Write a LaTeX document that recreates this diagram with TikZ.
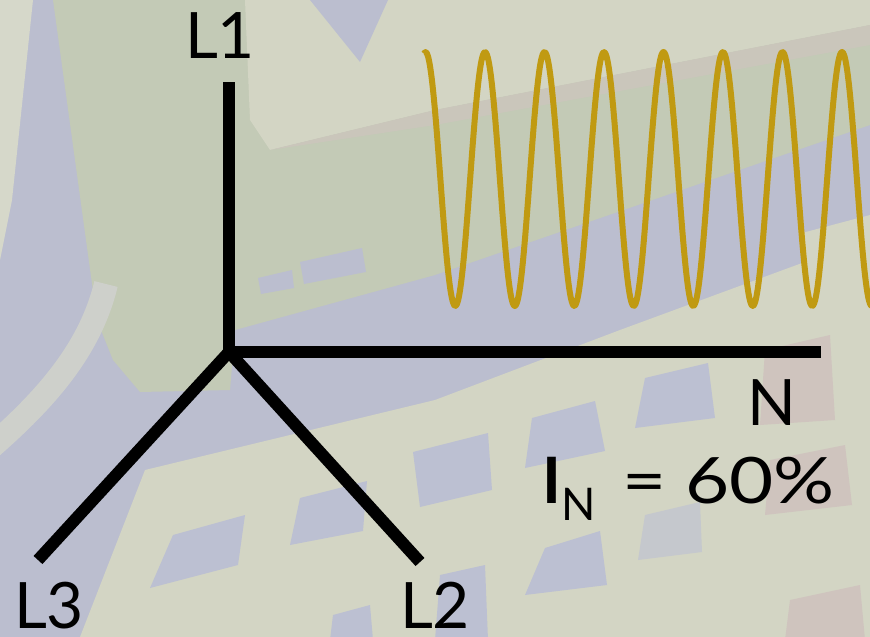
\documentclass[tikz,border=0pt]{standalone}
\usepackage{fontspec}
\usepackage{graphicx}
\setmainfont{Lato}
\definecolor{bgblue}{HTML}{BBBECF}
\definecolor{bggreen}{HTML}{C3CAB6}
\definecolor{bgbeige}{HTML}{D3D5C4}
\definecolor{bglight}{HTML}{D6D8CA}
\definecolor{bgpink}{HTML}{CFC4BE}
\definecolor{bgtile}{HTML}{BCC0D2}
\definecolor{wavegold}{HTML}{C09A12}
\tikzset{
  phase/.style={line width=12pt, black},
  lbl/.style={font=\fontsize{64}{64}\selectfont, inner sep=0pt, anchor=base, text=black, text height=46pt, text depth=0pt},
  wave/.style={wavegold, line width=6pt, line join=round}
}
\begin{document}
\begin{tikzpicture}[x=1pt,y=-1pt]
\useasboundingbox (0,0) rectangle (870,637);
% ---------- background ----------
\begin{scope}
\clip (0,0) rectangle (870,637);
\fill[bgblue] (0,0) rectangle (870,637);
\fill[bglight] (0,0) -- (33,0) -- (12,200) -- (0,260) -- cycle;
\fill[bggreen] (53,0) -- (870,0) -- (870,125) -- (435,275) -- (235,330) -- (230,390) -- (140,392) -- (113,360) -- (97,320) -- cycle;
\fill[bgbeige] (245,0) -- (870,0) -- (870,25) -- (435,110) -- (270,150) -- (250,120) -- cycle;
\fill[bgpink!60!bggreen] (870,25) -- (435,110) -- (270,150) -- (435,125) -- (870,45) -- cycle;
\fill[bgblue] (310,0) -- (388,0) -- (360,62) -- cycle;
\fill[bgblue] (300,262) -- (362,248) -- (366,272) -- (304,284) -- cycle;
\fill[bgblue] (258,278) -- (292,270) -- (294,288) -- (261,294) -- cycle;
\draw[bglight!70!bgblue, line width=24pt] (-10,448) .. controls (45,400) and (90,350) .. (106,284);
\fill[bgbeige] (80,637) -- (145,470) -- (435,400) -- (620,330) -- (870,238) -- (870,637) -- cycle;
\fill[bgbeige] (802,233) -- (870,215) -- (870,320) -- (802,320) -- cycle;
% tiles
\fill[bgtile] (173,535) -- (245,515) -- (238,565) -- (150,588) -- cycle;
\fill[bgtile] (300,498) -- (367,481) -- (363,531) -- (290,545) -- cycle;
\fill[bgtile] (333,615) -- (370,605) -- (373,640) -- (330,640) -- cycle;
\fill[bgtile] (413,452) -- (488,433) -- (492,490) -- (420,507) -- cycle;
\fill[bgtile] (532,418) -- (595,401) -- (605,451) -- (525,468) -- cycle;
\fill[bgtile] (645,378) -- (708,363) -- (715,418) -- (635,428) -- cycle;
\fill[bgtile] (545,548) -- (600,531) -- (607,585) -- (525,595) -- cycle;
\fill[bgtile!60!bgbeige] (645,515) -- (700,502) -- (702,552) -- (638,560) -- cycle;
\fill[bgtile] (440,575) -- (485,565) -- (488,640) -- (435,640) -- cycle;
\fill[bgpink] (765,350) -- (830,335) -- (835,420) -- (760,425) -- cycle;
\fill[bgpink] (770,460) -- (845,445) -- (852,505) -- (765,515) -- cycle;
\fill[bgpink] (790,600) -- (860,585) -- (865,640) -- (785,640) -- cycle;
\end{scope}
% ---------- wave ----------
\begin{scope}
\clip (0,0) rectangle (870,637);
\draw[wave] plot[domain=424:872, samples=450, smooth] (\x, {179 - 127*cos(6.0504*(\x-425.5))});
\end{scope}
% ---------- star ----------
\coordinate (c) at (229,352);
\coordinate (l1) at (229,82);
\coordinate (n) at (821,352);
\coordinate (l3) at (38,560);
\coordinate (l2) at (420,562);
\draw[phase] (l1) -- (c);
\draw[phase] (c) -- (n);
\draw[phase, line join=miter] (l3) -- (c) -- (l2);
% ---------- labels ----------
\node[lbl] (tl1) at (220,58) {L1};
\node[lbl] (tl3) at (49,628) {L3};
\node[lbl] (tl2) at (435,628) {L2};
\node[lbl] (tn) at (772,425) {N};
\node[lbl, anchor=base west] (tin) at (542,503) {{\bfseries I}\raisebox{-17pt}{\fontsize{45}{45}\selectfont N}\hspace{0.42em}\scalebox{1.19}[1]{=\hspace{0.25em}60\%}};
\end{tikzpicture}
\end{document}
